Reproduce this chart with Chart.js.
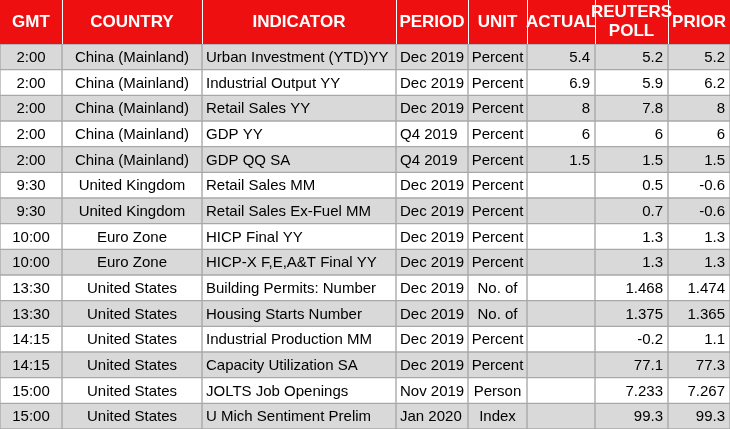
<!DOCTYPE html>
<html><head><meta charset="utf-8">
<script src="https://cdn.jsdelivr.net/npm/chart.js@4"></script>
<style>html,body{margin:0;padding:0;background:#fff}#w{width:730px;height:429px}</style>
</head><body><div id="w"><canvas id="c"></canvas></div>
<script>
const headers=["GMT","COUNTRY","INDICATOR","PERIOD","UNIT","ACTUAL","REUTERS\nPOLL","PRIOR"];
const gmt=["2:00","2:00","2:00","2:00","2:00","9:30","9:30","10:00","10:00","13:30","13:30","14:15","14:15","15:00","15:00"];
const country=["China (Mainland)","China (Mainland)","China (Mainland)","China (Mainland)","China (Mainland)","United Kingdom","United Kingdom","Euro Zone","Euro Zone","United States","United States","United States","United States","United States","United States"];
const indicator=["Urban Investment (YTD)YY","Industrial Output YY","Retail Sales YY","GDP YY","GDP QQ SA","Retail Sales MM","Retail Sales Ex-Fuel MM","HICP Final YY","HICP-X F,E,A&T Final YY","Building Permits: Number","Housing Starts Number","Industrial Production MM","Capacity Utilization SA","JOLTS Job Openings","U Mich Sentiment Prelim"];
const period=["Dec 2019","Dec 2019","Dec 2019","Q4 2019","Q4 2019","Dec 2019","Dec 2019","Dec 2019","Dec 2019","Dec 2019","Dec 2019","Dec 2019","Dec 2019","Nov 2019","Jan 2020"];
const unit=["Percent","Percent","Percent","Percent","Percent","Percent","Percent","Percent","Percent","No. of","No. of","Percent","Percent","Person","Index"];
const actual=["5.4","6.9","8","6","1.5","","","","","","","","","",""];
const poll=["5.2","5.9","7.8","6","1.5","0.5","0.7","1.3","1.3","1.468","1.375","-0.2","77.1","7.233","99.3"];
const prior=["5.2","6.2","8","6","1.5","-0.6","-0.6","1.3","1.3","1.474","1.365","1.1","77.3","7.267","99.3"];

const cols=[gmt,country,indicator,period,unit,actual,poll,prior];
const widths=[62,140,194,72,59,68,73,62];
const aligns=["center","center","left","left","center","right","right","right"];
const rowLabels=gmt.map((g,i)=>"r"+i);
const FONT="'Liberation Sans', Arial, sans-serif";

const tablePlugin={id:'table',afterDatasetsDraw(chart){
  const ctx=chart.ctx,x=chart.scales.x,y=chart.scales.y;
  const top=chart.chartArea.top;
  // header
  let acc=0;
  ctx.save();
  ctx.fillStyle='#ee1010';
  ctx.fillRect(x.getPixelForValue(0),0,x.getPixelForValue(730)-x.getPixelForValue(0),top);
  ctx.fillStyle='#fff';ctx.font="bold 17px "+FONT;ctx.textAlign='center';ctx.textBaseline='middle';
  ctx.strokeStyle='#fff';ctx.lineWidth=1;
  headers.forEach((h,ci)=>{
    const x0=x.getPixelForValue(acc),x1=x.getPixelForValue(acc+widths[ci]);
    const lines=h.split("\n");
    lines.forEach((l,li)=>ctx.fillText(l,(x0+x1)/2,top/2+(li-(lines.length-1)/2)*19));
    if(ci>0){ctx.beginPath();ctx.moveTo(Math.round(x0)+0.5,0);ctx.lineTo(Math.round(x0)+0.5,top);ctx.stroke();}
    acc+=widths[ci];
  });
  // cells text
  ctx.fillStyle='#000';ctx.font="15px "+FONT;
  rowLabels.forEach((r,ri)=>{
    const cy=y.getPixelForValue(ri)+1;
    let a=0;
    cols.forEach((arr,ci)=>{
      const x0=x.getPixelForValue(a),x1=x.getPixelForValue(a+widths[ci]);
      ctx.textAlign=aligns[ci];
      const tx=aligns[ci]==='center'?(x0+x1)/2:aligns[ci]==='left'?x0+4:x1-5;
      ctx.fillText(arr[ri],tx,cy);
      a+=widths[ci];
    });
  });
  ctx.restore();
}};

new Chart(document.getElementById('c'),{
  type:'bar',
  data:{labels:rowLabels,datasets:cols.map((arr,ci)=>({
    data:arr.map(()=>widths[ci]),
    backgroundColor:c=>c.dataIndex%2===0?'#d9d9d9':'#ffffff',
    borderColor:'#a8a8a8',borderWidth:1,borderSkipped:false,
    categoryPercentage:1,barPercentage:1
  }))},
  options:{indexAxis:'y',responsive:true,maintainAspectRatio:false,animation:false,
    layout:{padding:{top:44,left:0,right:0,bottom:0}},
    plugins:{legend:{display:false},tooltip:{enabled:false}},
    scales:{x:{type:'linear',stacked:true,min:0,max:730,display:false},
            y:{stacked:true,display:false}}},
  plugins:[tablePlugin]
});
</script></body></html>
